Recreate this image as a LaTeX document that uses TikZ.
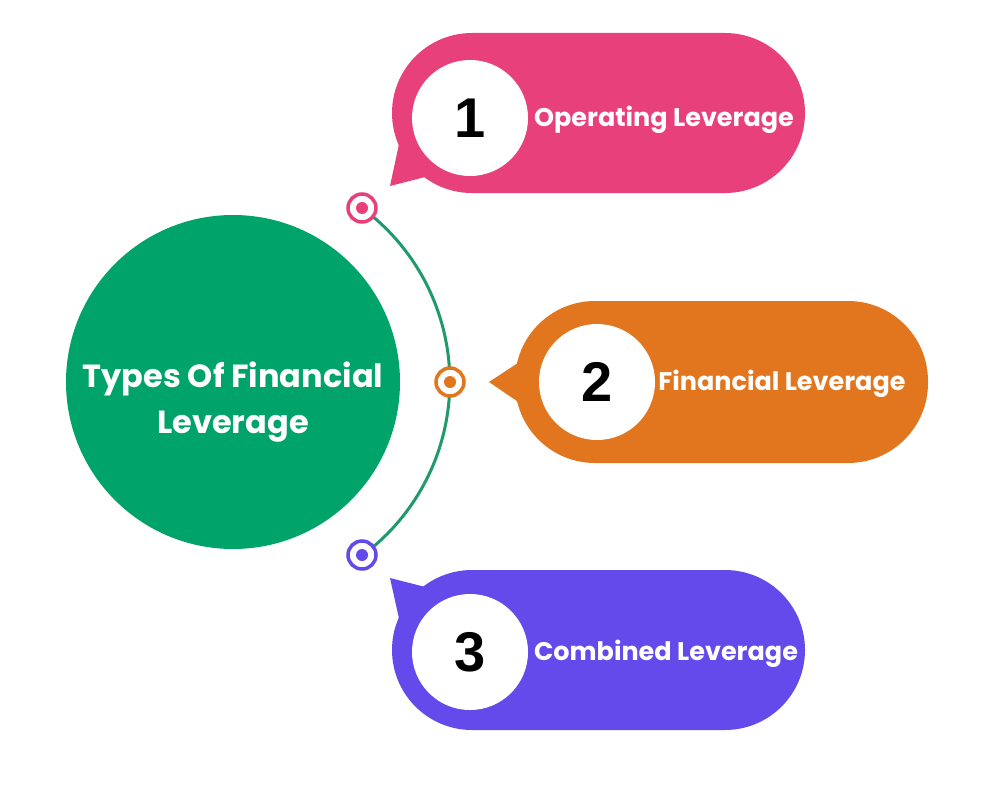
\documentclass[tikz,border=0pt]{standalone}
\usepackage{fontspec}
\setmainfont{Poppins}
\newfontfamily\numfont{Liberation Sans}
\definecolor{cpink}{HTML}{E8407A}
\definecolor{corange}{HTML}{E2761E}
\definecolor{cpurple}{HTML}{654AEB}
\definecolor{cgreen}{HTML}{00A36A}
\definecolor{carc}{HTML}{1F9A6A}
\begin{document}
\begin{tikzpicture}[x=1pt,y=-1pt,
  pill/.style={rounded corners=80pt},
  num/.style={circle,fill=white,minimum size=116pt,inner sep=0pt,font=\numfont\bfseries\fontsize{56}{56}\selectfont},
  lab/.style={text=white,font=\bfseries\fontsize{25.5}{28}\selectfont},
  ring/.style={circle,draw=#1,line width=3.5pt,fill=white,minimum size=28pt,inner sep=0pt,path picture={\fill[#1] (path picture bounding box.center) circle (6pt);}}]
\useasboundingbox (0,0) rectangle (1000,800);
\node[circle,fill=cgreen,minimum size=334pt,inner sep=0pt] (main) at (233,382) {};
\node[text=white,align=center,font=\bfseries\fontsize{32}{46}\selectfont] (mainlab) at (233,402) {Types Of Financial\\Leverage};
\draw[carc,line width=3pt] (362,208) arc[start angle=-53.6,end angle=53.6,radius=216];
% pills
\fill[cpink] (390,186) -- (402,130) -- (445,172) -- cycle;
\fill[cpink,pill] (392,33) rectangle (805,193);
\fill[corange] (489,382) -- (530,355) -- (530,410) -- cycle;
\fill[corange,pill] (515,301) rectangle (928,463);
\fill[cpurple] (390,578) -- (402,632) -- (445,592) -- cycle;
\fill[cpurple,pill] (392,570) rectangle (805,730);
\node[num] (n1) at (470,118) {1};
\node[num] (n2) at (597,382) {2};
\node[num] (n3) at (470,652) {3};
\node[lab] (t1) at (664,120) {Operating Leverage};
\node[lab] (t2) at (782,384) {Financial Leverage};
\node[lab] (t3) at (666,654) {Combined Leverage};
\node[ring=cpink] (r1) at (362,208) {};
\node[ring=corange] (r2) at (450,382) {};
\node[ring=cpurple] (r3) at (362,555) {};
\end{tikzpicture}
\end{document}
